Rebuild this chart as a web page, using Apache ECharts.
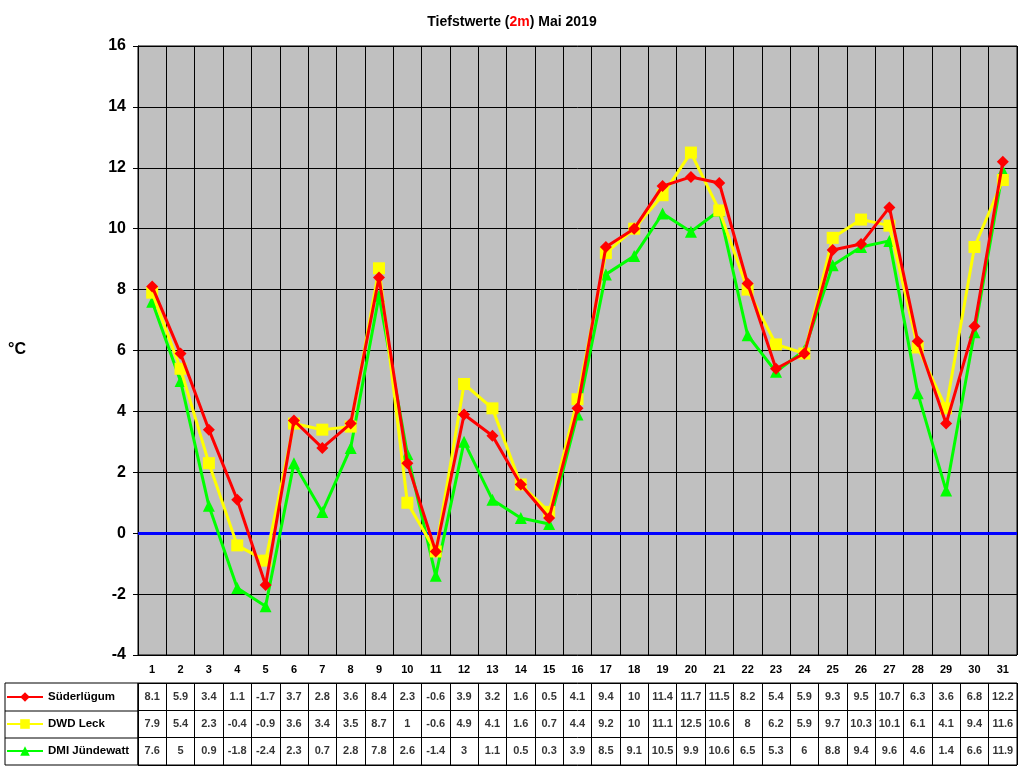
<!DOCTYPE html>
<html><head><meta charset="utf-8">
<script src="https://cdn.jsdelivr.net/npm/echarts@6/dist/echarts.min.js"></script>
<style>html,body{margin:0;padding:0;background:#fff}#c{width:1024px;height:768px}</style>
</head><body><div id="c"></div>
<script>
const days = Array.from({length:31},(_,i)=>String(i+1));
const seriesNames = ['Süderlügum','DWD Leck','DMI Jündewatt'];
const suederluegum = [8.1,5.9,3.4,1.1,-1.7,3.7,2.8,3.6,8.4,2.3,-0.6,3.9,3.2,1.6,0.5,4.1,9.4,10,11.4,11.7,11.5,8.2,5.4,5.9,9.3,9.5,10.7,6.3,3.6,6.8,12.2];
const dwd = [7.9,5.4,2.3,-0.4,-0.9,3.6,3.4,3.5,8.7,1,-0.6,4.9,4.1,1.6,0.7,4.4,9.2,10,11.1,12.5,10.6,8,6.2,5.9,9.7,10.3,10.1,6.1,4.1,9.4,11.6];
const dmi = [7.6,5,0.9,-1.8,-2.4,2.3,0.7,2.8,7.8,2.6,-1.4,3,1.1,0.5,0.3,3.9,8.5,9.1,10.5,9.9,10.6,6.5,5.3,6,8.8,9.4,9.6,4.6,1.4,6.6,11.9];
const allData = [suederluegum, dwd, dmi];
const colors = ['#ff0000','#ffff00','#00ff00'];
const symbols = ['diamond','rect','triangle'];
const yTicks = {min:-4, max:16, interval:2};

const tableData = [];
allData.forEach((arr,r)=>arr.forEach((v,i)=>tableData.push([i, r, v])));

const chart = echarts.init(document.getElementById('c'));
const font = 'Arial, Liberation Sans, sans-serif';
chart.setOption({
  animation:false,
  backgroundColor:'#fff',
  title:{text:'{a|Tiefstwerte (}{b|2m}{a|) Mai 2019}', left:'center', top:10,
    textStyle:{rich:{a:{fontFamily:font,fontWeight:'bold',fontSize:14,color:'#000'},
      b:{fontFamily:font,fontWeight:'bold',fontSize:14,color:'#ff0000',textDecoration:'underline'}}}},
  legend:{orient:'vertical', left:6, top:691, itemGap:15, itemWidth:36, itemHeight:12, padding:0,
    textStyle:{fontFamily:font,fontWeight:'bold',fontSize:11.5,color:'#000'},
    data:seriesNames},
  graphic:[
    {type:'text', left:8, top:342, style:{text:'°C', font:'bold 16px '+font, fill:'#000'}},
    {type:'rect', shape:{x:5,y:683,width:133,height:82}, style:{fill:'none',stroke:'#000',lineWidth:1}},
    {type:'line', shape:{x1:5,y1:711,x2:138,y2:711}, style:{stroke:'#000'}},
    {type:'line', shape:{x1:5,y1:738,x2:138,y2:738}, style:{stroke:'#000'}}
  ],
  grid:[
    {left:138, right:7, top:46, bottom:113, show:true, backgroundColor:'#c0c0c0', borderColor:'#000', borderWidth:1},
    {left:138, right:7, top:683, bottom:3, show:true, backgroundColor:'#fff', borderColor:'#000', borderWidth:1}
  ],
  xAxis:[
    {type:'category', gridIndex:0, data:days, boundaryGap:true,
      axisLine:{lineStyle:{color:'#000'}},
      axisTick:{show:true, length:28, lineStyle:{color:'#000'}},
      axisLabel:{fontFamily:font,fontWeight:'bold',fontSize:11,color:'#000',margin:9},
      splitLine:{show:true, interval:0, lineStyle:{color:'#000',width:1}}},
    {type:'category', gridIndex:1, data:days, boundaryGap:true,
      axisLine:{show:false}, axisTick:{show:false}, axisLabel:{show:false},
      splitLine:{show:true, interval:0, lineStyle:{color:'#000'}}}
  ],
  yAxis:[
    {type:'value', gridIndex:0, min:yTicks.min, max:yTicks.max, interval:yTicks.interval,
      axisLine:{show:true,lineStyle:{color:'#000'}}, axisTick:{show:true,lineStyle:{color:'#000'}},
      axisLabel:{fontFamily:font,fontWeight:'bold',fontSize:16,color:'#000',margin:12},
      splitLine:{show:true,lineStyle:{color:'#000',width:1}}},
    {type:'category', gridIndex:1, data:seriesNames, inverse:true, boundaryGap:true,
      axisLine:{show:false}, axisTick:{show:false}, axisLabel:{show:false},
      splitLine:{show:true, interval:0, lineStyle:{color:'#000'}}}
  ],
  series:[
    ...allData.map((arr,i)=>({
      name:seriesNames[i], type:'line', xAxisIndex:0, yAxisIndex:0, data:arr,
      symbol:symbols[i], symbolSize: 12, showAllSymbol:true,
      lineStyle:{color:colors[i], width:3}, itemStyle:{color:colors[i]}, z:10-i,
      markLine: i===0 ? {silent:true, symbol:'none', label:{show:false},
        lineStyle:{color:'#0000ff', width:3, type:'solid'}, data:[{yAxis:0}]} : undefined
    })),
    {type:'scatter', xAxisIndex:1, yAxisIndex:1, data:tableData, symbolSize:0,
      label:{show:true, position:'inside', formatter:p=>String(p.value[2]),
        fontFamily:font, fontWeight:'bold', fontSize:11, color:'#000'}}
  ]
});
</script></body></html>
